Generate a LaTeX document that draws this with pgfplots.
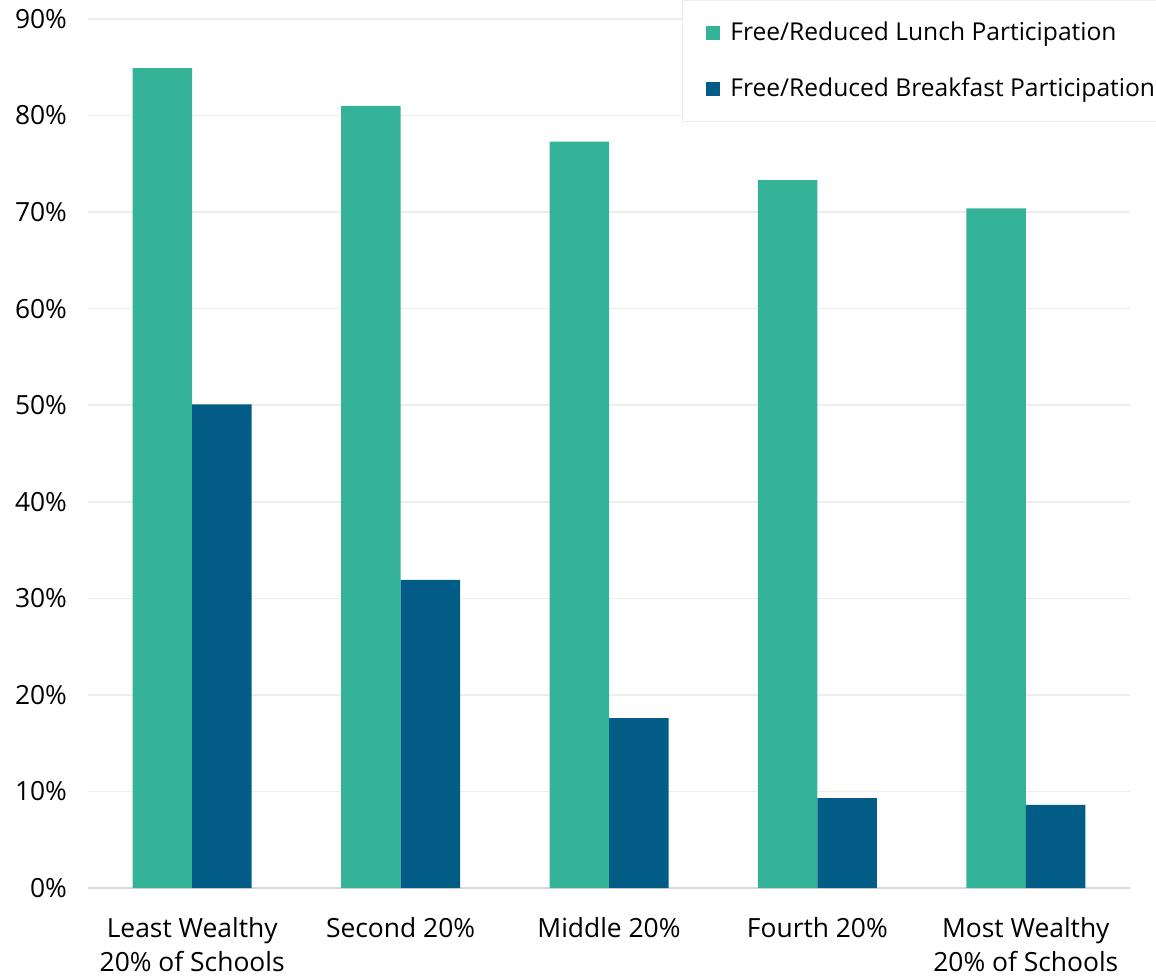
\documentclass[border=0pt]{standalone}
\usepackage{pgfplots}
\pgfplotsset{compat=1.18}
\usepackage{fontspec}
\setmainfont{Open Sans}
\definecolor{lunch}{HTML}{35B398}
\definecolor{bfast}{HTML}{035C85}
\definecolor{gridc}{HTML}{EDEDED}
\definecolor{axisc}{HTML}{D9D9D9}
\begin{document}
\begin{tikzpicture}
\useasboundingbox (-44pt,-43.5pt) rectangle (534pt,444pt);
\begin{axis}[
  scale only axis,
  width=521pt, height=434.5pt,
  ybar, bar width=29.75pt,
  xmin=-0.5, xmax=4.5,
  ymin=0, ymax=90,
  xtick=data,
  xticklabels={{Least Wealthy\\20\% of Schools},{Second 20\%},{Middle 20\%},{Fourth 20\%},{Most Wealthy\\20\% of Schools}},
  xticklabel style={align=center, font=\fontsize{13.2}{17}\selectfont, yshift=-11pt},
  ytick={0,10,...,90},
  yticklabels={0\%,10\%,20\%,30\%,40\%,50\%,60\%,70\%,80\%,90\%},
  yticklabel style={font=\fontsize{13.2}{15}\selectfont, xshift=-7pt},
  major tick length=0pt,
  ymajorgrids, grid style={gridc, line width=0.8pt},
  axis x line*=bottom, axis y line*=left,
  y axis line style={draw=none},
  x axis line style={axisc, line width=1pt, -},
  legend style={at={(0.57,1.022)}, anchor=north west, draw=black!7, fill=white,
    font=\fontsize{12.3}{15}\selectfont, row sep=13pt, inner xsep=12pt, inner ysep=9pt,
    legend cell align=left},
  legend image code/.code={\fill[#1] (0pt,-3.5pt) rectangle (7pt,3.5pt);},
]
\addplot[fill=lunch, draw=none, bar shift=-14.875pt] coordinates {(0,84.9) (1,81.0) (2,77.3) (3,73.3) (4,70.4)};
\addplot[fill=bfast, draw=none, bar shift=14.875pt] coordinates {(0,50.1) (1,31.9) (2,17.6) (3,9.3) (4,8.6)};
\legend{\hspace{3pt}Free/Reduced Lunch Participation,\hspace{3pt}Free/Reduced Breakfast Participation\hspace{20pt}}
\end{axis}
\end{tikzpicture}
\end{document}
